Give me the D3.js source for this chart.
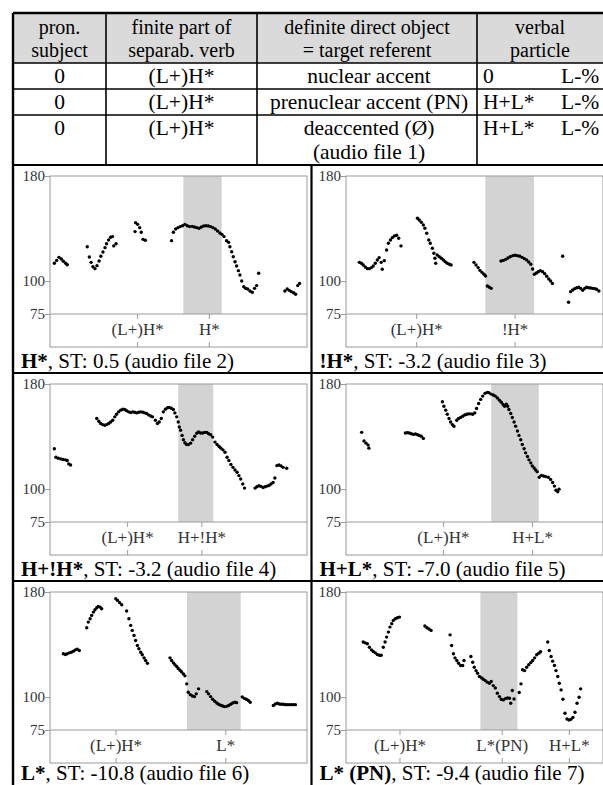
<!DOCTYPE html>
<html>
<head>
<meta charset="utf-8">
<script src="https://cdn.jsdelivr.net/npm/d3@7"></script>
<style>
  body { margin: 0; background: #fff; }
  text { font-family: "Liberation Serif", "Times New Roman", serif; }
</style>
</head>
<body>
<script>
// ---- table content ----
var headerCells = [["pron.", "subject"], ["finite part of", "separab. verb"],
                   ["definite direct object", "= target referent"], ["verbal", "particle"]];
var rowSubject = ["0", "0", "0"];
var rowVerb = ["(L+)H*", "(L+)H*", "(L+)H*"];
var rowObject = [["nuclear accent"], ["prenuclear accent (PN)"], ["deaccented (\u00d8)", "(audio file 1)"]];
var rowParticle = [["0", "L-%"], ["H+L*", "L-%"], ["H+L*", "L-%"]];

// ---- pitch panels: [time (% of window), f0 (Hz)] ----
var yTicks = [75, 100, 180];

var pts1 = [[1.7,113.6],[2.6,115.8],[3.5,118.1],[4.4,116.9],[5.2,115.1],[6.1,113.6],[6.7,112.5],
  [14.5,126.2],[15.3,118.4],[16.0,114.3],[16.7,111.0],[17.5,109.5],[18.3,111.8],[19.1,115.3],[19.8,118.9],
  [20.6,122.2],[21.4,125.5],[22.0,128.5],[22.8,131.3],[23.6,133.4],[24.3,133.9],[24.8,126.8],[25.7,128.5],
  [33.3,144.5],[34.1,143.2],[34.9,140.7],[33.1,137.7],[35.5,137.2],[36.2,131.8],[37.1,131.1],
  [47.3,130.8],[48.0,137.2],[48.9,139.7],[49.8,140.7],[50.7,141.5],[51.6,142.2],[52.5,143.2],[53.4,142.2],
  [54.3,141.5],[55.3,141.7],[56.2,141.2],[57.1,140.7],[58.0,140.2],[58.9,141.2],[59.8,142.0],[60.7,142.2],
  [61.6,142.0],[62.5,141.5],[63.4,140.7],[64.3,139.7],[65.2,138.2],[66.1,136.6],[66.9,135.6],[67.7,133.9],
  [68.7,130.8],[69.5,129.5],[70.0,126.2],[70.7,122.4],[71.3,118.6],[72.0,114.8],[72.6,111.5],[73.3,108.0],
  [73.9,104.7],[74.6,100.1],[75.4,95.8],[76.1,94.5],[76.9,94.0],[77.8,92.5],[78.7,91.5],[79.6,94.5],
  [80.4,96.6],[81.2,106.0],
  [91.4,92.5],[92.3,94.0],[93.1,93.0],[93.9,92.0],[94.8,91.2],[95.6,90.0],[96.4,96.6],[97.1,98.3]];

var pts2 = [[5.2,114.3],[6.0,113.6],[6.7,112.3],[7.5,110.8],[8.3,109.5],[9.1,109.5],[9.9,110.3],[10.6,111.5],
  [11.4,113.6],[12.2,116.1],[12.9,117.9],[13.7,114.3],[14.1,109.0],[14.9,115.6],
  [15.8,123.7],[16.5,128.8],[17.3,131.3],[18.0,133.1],[18.8,134.4],[19.7,134.9],[20.5,132.6],[21.4,126.8],
  [27.8,147.8],[28.5,146.5],[29.3,144.8],[30.1,142.7],[30.7,140.2],[31.4,136.4],[32.2,131.3],[32.8,128.8],
  [33.6,125.0],[34.2,121.2],[34.6,117.4],[34.9,113.6],[35.5,119.9],[36.3,118.6],[37.1,117.4],[37.9,116.1],
  [38.6,114.8],[39.4,113.6],[40.2,112.8],[40.9,112.3],
  [49.8,114.3],[50.6,112.3],[51.4,110.3],[52.1,108.2],[52.9,106.7],[53.7,105.2],[54.3,103.9],[55.0,96.3],
  [55.8,95.3],[56.5,94.5],
  [60.3,115.3],[61.2,115.8],[62.1,116.6],[63.0,117.6],[63.9,118.6],[64.9,119.4],[65.8,119.7],[66.7,119.4],
  [67.6,118.9],[68.5,118.1],[69.4,117.1],[70.3,116.1],[71.1,114.6],[71.9,112.8],[72.6,109.2],[73.3,105.2],
  [74.1,106.2],[74.8,107.2],[75.6,108.0],[76.5,107.2],[77.3,105.7],[78.1,103.7],[78.9,101.6],[79.6,100.1],
  [80.3,98.3],
  [84.3,118.9],[86.6,83.9],[87.4,92.0],[88.2,93.3],[89.0,94.3],[89.8,95.0],[90.5,95.3],[91.3,94.5],
  [92.1,93.0],[92.9,94.5],[93.6,95.3],[94.4,95.0],[95.2,94.8],[96.0,94.5],[96.8,94.3],[97.5,93.8],[98.4,92.5]];

var pts3 = [[1.7,130.7],[2.3,124.3],[3.2,123.5],[4.2,123.0],[5.1,122.5],[6.0,122.3],[6.7,121.8],[7.3,119.2],[8.0,118.4],
  [18.2,153.7],[19.0,151.7],[19.7,149.9],[20.5,149.1],[21.3,148.6],[22.0,149.1],[22.8,149.9],[23.6,151.1],
  [24.4,152.4],[25.2,155.0],[25.9,157.0],[26.7,158.8],[27.5,160.1],[28.3,160.8],[29.1,160.6],[29.8,159.6],
  [30.6,158.8],[31.4,158.3],[32.2,158.8],[32.9,158.5],[33.7,158.0],[34.5,158.5],[35.3,158.8],[36.1,158.5],
  [36.8,158.0],[37.6,157.5],[38.4,156.5],[39.2,155.7],[39.9,155.0],[41.0,152.4],[41.8,149.9],[42.5,151.1],
  [43.3,153.7],[44.1,158.8],[44.9,160.8],[45.7,161.9],[46.4,162.1],[47.2,161.6],[48.0,160.6],[48.6,158.0],
  [49.3,155.0],[49.9,151.1],[50.3,147.3],[50.8,144.8],[51.4,140.9],[51.9,137.6],[52.5,135.3],[53.1,134.0],
  [53.9,134.0],[54.7,135.0],[55.5,137.6],[56.3,140.2],[57.1,142.5],[57.8,143.5],[58.6,142.7],[59.4,142.7],
  [60.2,143.2],[61.0,143.2],[61.7,142.2],[62.5,141.4],[63.3,139.6],[64.2,135.8],[65.0,134.0],[65.8,132.5],
  [66.5,131.2],[67.3,129.9],[68.1,128.1],[68.9,124.3],[69.6,121.8],[70.4,118.7],[71.2,116.6],[72.0,114.6],
  [72.8,112.8],[73.5,110.3],[74.2,107.7],[75.0,103.9],[75.7,100.8],
  [79.8,100.8],[80.5,101.8],[81.3,102.6],[82.1,102.1],[82.9,101.3],[83.7,101.8],[84.4,102.3],[85.2,102.8],
  [86.0,103.9],[86.8,105.1],[87.5,108.5],[88.3,117.9],[89.1,118.4],[89.9,117.7],[90.7,116.6],[92.1,115.9]];

var pts4 = [[6.1,143.2],[7.0,136.6],[7.8,135.0],[8.6,133.5],[8.9,131.2],
  [23.1,142.7],[23.9,143.0],[24.6,142.7],[25.4,142.2],[26.2,141.7],[27.0,141.9],[27.8,141.4],[28.5,140.9],
  [29.3,140.2],[30.1,138.6],
  [37.5,166.5],[38.1,163.1],[38.8,160.1],[39.4,157.0],[40.1,153.7],[40.7,151.1],[41.4,149.1],[42.0,147.8],
  [43.1,152.4],[43.8,153.7],[44.6,154.5],[45.4,155.5],[46.2,156.5],[47.0,157.0],[47.7,157.3],[48.5,157.3],
  [49.3,157.0],[50.1,158.0],[50.8,161.4],[51.6,165.2],[52.4,168.3],[53.2,170.8],[54.1,172.9],[54.9,173.6],
  [55.6,173.4],[56.4,172.3],[57.3,171.6],[58.1,170.8],[58.9,169.3],[59.7,167.7],[60.4,166.2],[61.1,164.4],
  [61.7,163.1],[62.4,164.7],[62.9,163.1],[63.4,160.6],[64.1,157.5],[64.7,154.5],[65.4,151.1],[66.0,147.8],
  [66.7,144.2],[67.3,140.9],[68.0,137.6],[68.6,134.0],[69.3,130.7],[69.9,127.6],[70.6,124.8],[71.2,122.3],
  [71.9,120.0],[72.5,117.7],[73.2,116.1],[73.8,114.6],[74.4,113.3],[75.2,109.0],[76.0,110.5],[76.8,110.0],
  [77.7,109.5],[78.7,109.0],[79.6,107.4],[80.4,105.1],[81.1,102.3],[81.7,99.2],[82.4,98.0],[82.9,100.0]];

var pts5 = [[5.2,133.0],[6.0,132.5],[6.7,133.0],[7.5,133.7],[8.3,134.2],[9.1,135.0],[9.9,136.0],[10.6,136.5],[11.4,135.5],
  [14.3,152.8],[14.9,157.1],[15.6,159.6],[16.2,162.2],[16.9,164.7],[17.5,166.5],[18.2,168.0],[18.8,169.1],
  [19.5,168.5],[20.1,167.3],
  [25.6,174.9],[26.3,173.6],[27.1,171.9],[27.9,170.3],[29.8,165.5],[30.7,159.6],[31.4,154.6],[32.0,150.8],
  [32.7,146.9],[33.3,143.1],[34.0,139.3],[34.6,136.8],[35.3,134.2],[35.9,132.2],[36.6,129.9],[37.2,127.9],[37.9,125.8],
  [46.7,129.9],[47.3,127.9],[48.0,126.1],[48.6,124.6],[49.3,123.3],[49.9,121.8],[50.6,120.5],[51.2,119.2],
  [51.9,117.7],[52.5,116.2],[53.2,110.1],[53.8,103.7],[54.6,101.9],[55.4,100.9],[56.2,100.4],[56.9,102.5],[57.8,106.3],
  [61.0,104.2],[61.7,102.5],[62.5,100.4],[63.3,98.4],[64.1,96.9],[64.9,95.6],[65.6,94.6],[66.4,93.8],
  [67.2,93.3],[67.9,92.8],[68.7,93.0],[69.5,93.6],[70.3,94.6],[71.1,95.6],[71.9,96.1],[72.6,95.8],
  [74.8,100.2],[75.6,99.1],[76.4,98.4],[77.2,97.4],[77.9,96.1],
  [86.9,93.6],[87.7,94.8],[88.5,95.3],[89.2,94.8],[90.0,94.6],[90.8,94.6],[91.6,94.3],[92.3,94.3],
  [93.1,94.3],[93.9,94.3],[94.7,94.3],[95.5,94.3]];

var pts6 = [[6.7,141.9],[7.5,141.3],[8.3,140.6],[9.1,138.0],[9.9,136.0],[10.6,134.7],[11.4,133.7],[12.2,132.4],
  [13.0,131.9],[13.7,131.9],[14.5,138.0],[15.2,141.9],[15.8,145.7],[16.5,149.5],[17.1,153.3],[17.8,155.9],
  [18.4,158.4],[19.2,159.6],[20.0,160.4],[20.8,160.9],
  [30.7,154.1],[31.5,152.8],[32.3,151.8],[33.1,150.8],
  [40.5,147.4],[41.1,139.3],[41.8,133.0],[42.4,129.9],[43.1,127.9],[43.8,125.8],[44.6,124.1],[45.4,124.1],[45.9,127.9],
  [48.6,130.9],[49.3,126.6],[49.9,122.8],[50.6,120.2],[51.2,118.2],[51.9,115.7],[52.7,114.7],[53.4,113.6],
  [54.2,112.6],[55.0,111.4],[55.8,110.6],[56.5,111.9],[57.3,108.8],[58.1,107.0],[58.9,103.0],[59.7,100.4],
  [60.4,98.4],[61.2,97.9],[62.0,98.9],[62.8,99.4],[63.6,99.2],[64.1,95.3],[64.7,105.0],[65.4,98.6],
  [67.4,103.5],[68.1,110.1],[68.7,120.8],[69.5,120.2],[70.3,122.8],[71.1,124.6],[71.9,126.3],[72.6,127.9],
  [73.4,129.9],[74.2,132.2],[75.0,133.4],[75.7,134.5],
  [78.5,141.9],[79.1,135.5],[79.8,130.9],[80.4,127.4],[81.1,124.1],[81.7,120.2],[82.4,115.7],[83.0,110.6],
  [83.7,105.5],[84.4,98.4],[85.2,87.7],[86.0,83.4],[86.8,82.6],[87.5,83.1],[88.3,84.6],[89.1,88.5],
  [89.9,95.3],[90.7,99.9],[91.3,106.3]];

var panelPoints = [pts1, pts2, pts3, pts4, pts5, pts6];
var panelBold = ["H*", "!H*", "H+!H*", "H+L*", "L*", "L* (PN)"];
var panelRest = [", ST: 0.5 (audio file 2)", ", ST: -3.2 (audio file 3)", ", ST: -3.2 (audio file 4)",
                 ", ST: -7.0 (audio file 5)", ", ST: -10.8 (audio file 6)", ", ST: -9.4 (audio file 7)"];
var panelTones = [[["(L+)H*", 34.1], ["H*", 62.0]], [["(L+)H*", 27.5], ["!H*", 65.8]],
                  [["(L+)H*", 30.2], ["H+!H*", 59.1]], [["(L+)H*", 37.9], ["H+L*", 72.6]],
                  [["(L+)H*", 25.7], ["L*", 68.4]], [["(L+)H*", 21.0], ["L*(PN)", 60.8], ["H+L*", 86.9]]];
var panelShade = [[51.9, 66.8], [54.2, 73.2], [49.9, 63.5], [56.5, 75.0], [53.3, 74.2], [52.3, 66.7]];

var W = 603, H = 785;
var svg = d3.select("body").append("svg").attr("width", W).attr("height", H);

// ---- table ----
var colX = [13, 106, 257, 477, 604];
var rowY = [13, 63, 89, 115, 165];
var tableFont = 21.5;

svg.append("rect").attr("x", colX[0]).attr("y", rowY[0])
   .attr("width", colX[4] - colX[0]).attr("height", rowY[1] - rowY[0]).attr("fill", "#dadada");

var colMid = function(i) { return (colX[i] + colX[i + 1]) / 2; };

headerCells.forEach(function(lines, i) {
  lines.forEach(function(s, j) {
    svg.append("text").attr("x", i == 3 ? 540 : colMid(i)).attr("y", 34 + j * 22.5)
       .attr("text-anchor", "middle").attr("font-size", 20).text(s);
  });
});

for (var r = 0; r < 3; r++) {
  var base = rowY[r + 1] + 20;
  svg.append("text").attr("x", colMid(0)).attr("y", base).attr("text-anchor", "middle")
     .attr("font-size", tableFont).text(rowSubject[r]);
  svg.append("text").attr("x", colMid(1)).attr("y", base).attr("text-anchor", "middle")
     .attr("font-size", tableFont).text(rowVerb[r]);
  rowObject[r].forEach(function(s, j) {
    svg.append("text").attr("x", colMid(2) + 2).attr("y", base + j * 24).attr("text-anchor", "middle")
       .attr("font-size", tableFont).text(s);
  });
  svg.append("text").attr("x", 483).attr("y", base).attr("font-size", tableFont).text(rowParticle[r][0]);
  svg.append("text").attr("x", 561).attr("y", base).attr("font-size", tableFont).text(rowParticle[r][1]);
}

rowY.slice(1, 4).forEach(function(y) {
  svg.append("line").attr("x1", colX[0]).attr("x2", colX[4]).attr("y1", y).attr("y2", y)
     .attr("stroke", "#000").attr("stroke-width", 1.6);
});
colX.slice(1, 4).forEach(function(x) {
  svg.append("line").attr("x1", x).attr("x2", x).attr("y1", rowY[0]).attr("y2", rowY[4])
     .attr("stroke", "#000").attr("stroke-width", 1.6);
});

// ---- panels ----
var rowTop = [165, 373, 581];
var panelLeft = [13, 311.5];
var frameLeft = [50, 346];
var frameW = 257;

panelPoints.forEach(function(pts, i) {
  var col = i % 2, row = Math.floor(i / 2);
  var top = rowTop[row] + 11;
  var x = d3.scaleLinear().domain([0, 100]).range([frameLeft[col], frameLeft[col] + frameW]);
  var y = d3.scaleLinear().domain([75, 180]).range([top + 138, top]);
  var bottom = top + 171;
  var g = svg.append("g");

  g.append("rect").attr("x", x(panelShade[i][0])).attr("y", y(180))
   .attr("width", x(panelShade[i][1]) - x(panelShade[i][0])).attr("height", y(75) - y(180))
   .attr("fill", "#d3d3d3");

  g.append("rect").attr("x", x(0)).attr("y", top).attr("width", frameW).attr("height", bottom - top)
   .attr("fill", "none").attr("stroke", "#9a9a9a").attr("stroke-width", 1);
  g.append("line").attr("x1", x(0)).attr("x2", x(100)).attr("y1", y(75)).attr("y2", y(75))
   .attr("stroke", "#9a9a9a").attr("stroke-width", 1);

  var ay = g.append("g").attr("transform", "translate(" + x(0) + ",0)")
    .call(d3.axisLeft(y).tickValues(yTicks).tickSize(5).tickFormat(d3.format("d")));
  ay.select(".domain").remove();
  ay.selectAll("line").attr("stroke", "#9a9a9a");
  ay.selectAll("text").attr("font-size", 15).attr("fill", "#333")
    .attr("font-family", "Liberation Serif, serif").attr("x", -5);

  panelTones[i].forEach(function(t) {
    g.append("line").attr("x1", x(t[1])).attr("x2", x(t[1])).attr("y1", y(75)).attr("y2", y(75) + 5)
     .attr("stroke", "#9a9a9a");
    g.append("line").attr("x1", x(t[1])).attr("x2", x(t[1])).attr("y1", bottom - 5).attr("y2", bottom)
     .attr("stroke", "#9a9a9a");
    g.append("text").attr("x", x(t[1])).attr("y", top + 159).attr("text-anchor", "middle")
     .attr("font-size", 17).attr("fill", "#333").text(t[0]);
  });

  g.selectAll("circle").data(pts).enter().append("circle")
   .attr("cx", function(d) { return x(d[0]); })
   .attr("cy", function(d) { return y(d[1]); })
   .attr("r", 1.7).attr("fill", "#000");

  // last row's caption sits at the bottom edge; keep it just inside
  var capY = Math.min(top + 192, H - 5);
  var cap = g.append("text").attr("x", panelLeft[col] + 8).attr("y", capY).attr("font-size", 21);
  cap.append("tspan").attr("font-weight", "bold").text(panelBold[i]);
  cap.append("tspan").text(panelRest[i]);
});

// panel borders
rowTop.forEach(function(y) {
  svg.append("line").attr("x1", colX[0]).attr("x2", W).attr("y1", y).attr("y2", y)
     .attr("stroke", "#000").attr("stroke-width", 2.2);
});
svg.append("line").attr("x1", panelLeft[1]).attr("x2", panelLeft[1]).attr("y1", rowTop[0]).attr("y2", H)
   .attr("stroke", "#000").attr("stroke-width", 2.2);

// outer border (right and bottom fall outside the picture)
svg.append("line").attr("x1", colX[0]).attr("x2", W).attr("y1", rowY[0]).attr("y2", rowY[0])
   .attr("stroke", "#000").attr("stroke-width", 2.4);
svg.append("line").attr("x1", colX[0]).attr("x2", colX[0]).attr("y1", rowY[0]).attr("y2", H)
   .attr("stroke", "#000").attr("stroke-width", 2.4);
</script>
</body>
</html>
